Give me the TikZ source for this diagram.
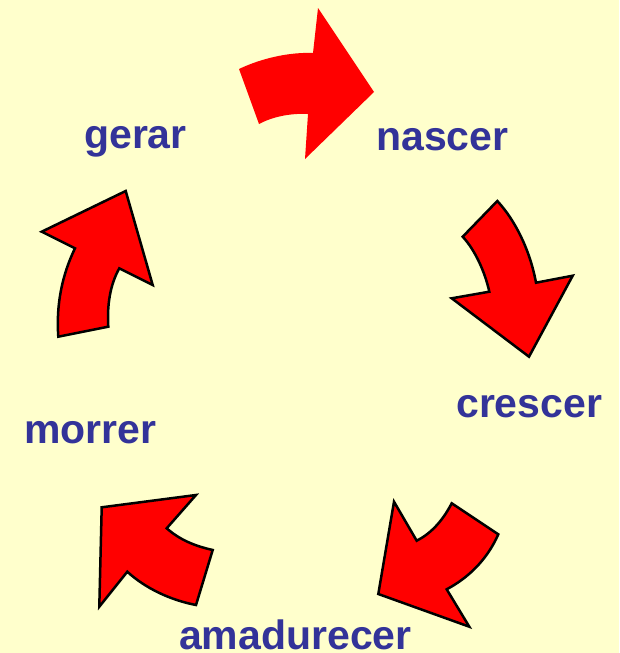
\documentclass[tikz,border=0pt]{standalone}
\usepackage{fontspec}
\setmainfont{Liberation Sans}
\definecolor{bg}{HTML}{FFFFCC}
\definecolor{lbl}{HTML}{333399}
\begin{document}
\begin{tikzpicture}[x=1pt,y=-1pt,
  lab/.style={anchor=base west,inner sep=0pt,text=lbl,font=\fontsize{41}{41}\selectfont\bfseries},
  arr/.style={fill=red,draw=black,line width=2.5pt,line join=miter},
  arrnb/.style={fill=red,draw=none}]
\fill[bg] (0,0) rectangle (619,653);
\useasboundingbox (0,0) rectangle (619,653);
% top arrow (no outline)
\path[arrnb] (239,69) .. controls (262,58) and (290,52) .. (313,53) -- (318,8) -- (374,92) -- (305,159) -- (308,114)
  .. controls (290,113) and (272,117) .. (259,124) -- cycle;
% right arrow
\path[arr] (462.7,236.7) -- (497.3,201) .. controls (515,220) and (530,250) .. (536,282.7) -- (572.7,275.7) -- (529,356.7)
  -- (451.7,298.3) -- (489.3,291.7) .. controls (485,272) and (475,250) .. cycle;
% bottom-right arrow
\path[arr] (394,501.7) -- (416.7,540.7) .. controls (430,534) and (442,522) .. (451.7,503.3) -- (498.3,534.3)
  .. controls (487,560) and (468,578) .. (446.7,589.3) -- (469.3,626.7) -- (378.3,594) -- cycle;
% bottom-left arrow
\path[arr] (101.7,507.3) -- (196,495) -- (166.7,528.3) .. controls (180,540) and (195,546) .. (212.7,550)
  -- (196,605) .. controls (170,600) and (145,588) .. (127.3,571.7) -- (99.3,606.7) -- cycle;
% left arrow
\path[arr] (125.7,191) -- (152.7,285) -- (119.3,268.3) .. controls (110,285) and (107,305) .. (108.3,326.7)
  -- (58.3,336.7) .. controls (56,305) and (62,275) .. (75,248.3) -- (41.7,231.7) -- cycle;
\node[lab] (gerar) at (84,148) {gerar};
\node[lab] (nascer) at (376,150) {nascer};
\node[lab] (crescer) at (456,417) {crescer};
\node[lab] (morrer) at (24,443) {morrer};
\node[lab] (amadurecer) at (179,649) {amadurecer};
\end{tikzpicture}
\end{document}
